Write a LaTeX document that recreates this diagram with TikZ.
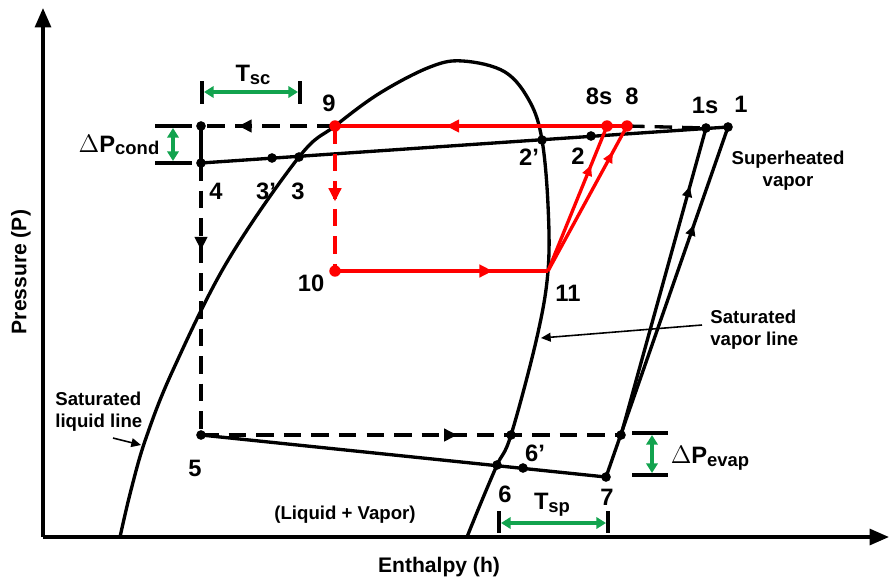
\documentclass[tikz,border=0pt]{standalone}
\usepackage{fontspec}
\setmainfont{Liberation Sans}
\usetikzlibrary{arrows.meta,decorations.markings}
\definecolor{cyclered}{HTML}{FF0000}
\definecolor{markgreen}{HTML}{12A34E}
\newcommand{\lowsub}[1]{\raisebox{-1.5pt}{\fontsize{10.5}{11}\selectfont #1}}

\begin{document}
\begin{tikzpicture}[x=0.02cm, y=-0.02cm,
  axisline/.style={line width=1.9pt, -{Triangle[length=11pt, width=9pt]}},
  blackline/.style={line width=1.9pt, black},
  redline/.style={line width=1.9pt, cyclered},
  dashline/.style={line width=1.9pt, dash pattern=on 10pt off 5.7pt},
  midarr/.style={postaction={decorate}, decoration={markings, mark=at position #1 with {\arrow{Triangle[length=7.5pt, width=7pt]}}}},
  smallarr/.style={postaction={decorate}, decoration={markings, mark=at position #1 with {\arrow{Triangle[length=6pt, width=5.5pt]}}}},
  statedot/.style={circle, fill=black, inner sep=0pt, minimum size=5.5pt},
  reddot/.style={circle, fill=cyclered, inner sep=0pt, minimum size=6.5pt},
  statelbl/.style={font=\fontsize{13.5}{14}\selectfont\bfseries, inner sep=0pt},
  notelbl/.style={font=\fontsize{10.6}{12.5}\selectfont\bfseries, align=left, inner sep=0pt},
  tickline/.style={line width=1.9pt},
  greenspan/.style={line width=1.9pt, markgreen, {Triangle[length=5.5pt, width=6.5pt]}-{Triangle[length=5.5pt, width=6.5pt]}},
  thinarr/.style={line width=0.9pt, -{Triangle[length=5.5pt, width=5pt]}}
]
  \useasboundingbox (0,0) rectangle (891,582);

  % axes
  \coordinate (origin) at (43,537);
  \draw[axisline] (origin) -- (43,8);
  \draw[axisline] (origin) -- (889,537);
  \node[font=\fontsize{12}{14}\selectfont\bfseries] (xlabel) at (439,567) {Enthalpy (h)};
  \node[font=\fontsize{12}{14}\selectfont\bfseries, rotate=90] (ylabel) at (21,272) {Pressure (P)};

  % saturation dome
  \draw[blackline] plot[smooth, tension=0.6] coordinates {(120,537) (131,490) (146,438) (173,370) (227,262) (299,157) (335,126) (380,93) (430,67) (463,61) (505,72) (530,102) (542,140) (548,205) (548,271) (537,337) (511,435) (497,465) (480,505) (467,537)};

  % state points
  \coordinate (p1) at (728,127);
  \coordinate (p1s) at (706,128);
  \coordinate (p2) at (591,136);
  \coordinate (p2p) at (542,140);
  \coordinate (p3) at (299,157);
  \coordinate (p3p) at (272,158);
  \coordinate (p4) at (201,163);
  \coordinate (p4t) at (201,126);
  \coordinate (p5) at (201,435);
  \coordinate (p6) at (497,465);
  \coordinate (p6p) at (523,468);
  \coordinate (p7) at (606,477);
  \coordinate (p6t) at (511,435);
  \coordinate (p7t) at (621,435);
  \coordinate (p8) at (627,126);
  \coordinate (p8s) at (607,126);
  \coordinate (p9) at (335,126);
  \coordinate (p10) at (335,271);
  \coordinate (p11) at (548,271);

  % actual cycle
  \draw[blackline] (p4) -- (p1);
  \draw[blackline] (p5) -- (p7);
  \draw[blackline, smallarr=0.72] (p7) -- (p1);
  \draw[blackline, smallarr=0.81] (p7t) -- (p1s);
  \draw[blackline] (p4t) -- (p4);
  \draw[dashline, midarr=0.32] (p4) -- (p5);
  \draw[dashline, midarr=0.72] (p9) -- (p4t);
  \draw[dashline] (p8) -- (p1s);
  \draw[dashline, midarr=0.61] (p5) -- (p7t);

  % ideal cycle
  \draw[redline, midarr=0.62] (p8) -- (p9);
  \draw[redline, dashline, midarr=0.52] (p9) -- (p10);
  \draw[redline, midarr=0.74] (p10) -- (p11);
  \draw[redline, smallarr=0.73] (p11) -- (p8s);
  \draw[redline, smallarr=0.82] (p11) -- (p8);

  \foreach \p in {p1,p1s,p2,p2p,p3,p3p,p4,p4t,p5,p6,p6p,p7,p6t,p7t}
    \node[statedot] at (\p) {};
  \foreach \p in {p8,p8s,p9,p10}
    \node[reddot] at (\p) {};

  % state labels
  \node[statelbl] (l1) at (741,104) {1};
  \node[statelbl] (l1s) at (705,105) {1s};
  \node[statelbl] (l2) at (578,156) {2};
  \node[statelbl] (l2p) at (529,157) {2'};
  \node[statelbl] (l3) at (298,191) {3};
  \node[statelbl] (l3p) at (266,191) {3'};
  \node[statelbl] (l4) at (216,191) {4};
  \node[statelbl] (l5) at (195,468) {5};
  \node[statelbl] (l6) at (505,494) {6};
  \node[statelbl] (l6p) at (535,453) {6'};
  \node[statelbl] (l7) at (607,497) {7};
  \node[statelbl] (l8) at (632,96) {8};
  \node[statelbl] (l8s) at (599,96) {8s};
  \node[statelbl] (l9) at (329,103) {9};
  \node[statelbl] (l10) at (311,283) {10};
  \node[statelbl] (l11) at (568,293) {11};

  % differences
  \draw[tickline] (155,126) -- (192,126);
  \draw[tickline] (155,163) -- (192,163);
  \draw[greenspan] (173,128) -- (173,161);
  \node[statelbl] (dpcond) at (119,145) {$\Delta$P\lowsub{cond}};

  \draw[tickline] (202,81) -- (202,104);
  \draw[tickline] (300,81) -- (300,104);
  \draw[greenspan] (204,92) -- (298,92);
  \node[statelbl] (tsc) at (253,75) {T\lowsub{sc}};

  \draw[tickline] (632,433) -- (668,433);
  \draw[tickline] (632,475) -- (668,475);
  \draw[greenspan] (652,435) -- (652,473);
  \node[statelbl] (dpevap) at (710,458) {$\Delta$P\lowsub{evap}};

  \draw[tickline] (499,511) -- (499,533);
  \draw[tickline] (608,511) -- (608,533);
  \draw[greenspan] (501,523) -- (606,523);
  \node[statelbl] (tsp) at (552,505) {T\lowsub{sp}};

  % notes
  \node[notelbl, align=center] (superheat) at (788,171) {Superheated\\vapor};
  \node[notelbl, anchor=west] (satvap) at (710,330) {Saturated\\vapor line};
  \node[notelbl, anchor=west] (satliq) at (55,412) {Saturated\\liquid line};
  \node[notelbl] (mixture) at (345,515) {(Liquid + Vapor)};

  \coordinate (vaptail) at (702,325);
  \coordinate (vapline) at (541,338);
  \draw[thinarr] (vaptail) -- (vapline);
  \coordinate (liqtail) at (113,438);
  \coordinate (liqline) at (141,445);
  \draw[thinarr] (liqtail) -- (liqline);
\end{tikzpicture}
\end{document}
